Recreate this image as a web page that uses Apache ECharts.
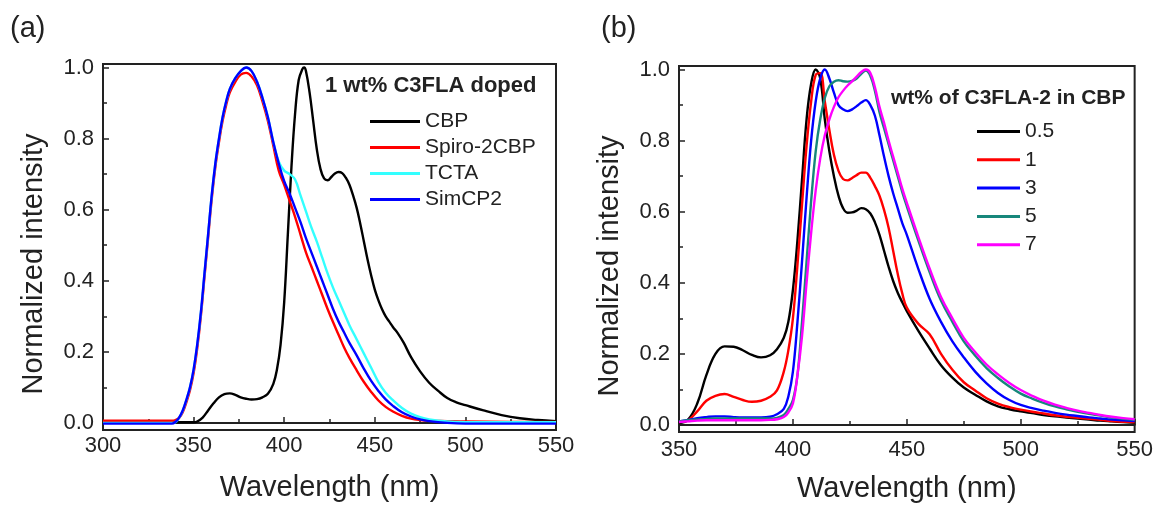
<!DOCTYPE html>
<html><head><meta charset="utf-8">
<script src="https://cdn.jsdelivr.net/npm/echarts@6/dist/echarts.min.js"></script>
<style>html,body{margin:0;padding:0;background:#fff}#c{width:1156px;height:508px}</style>
</head><body><div id="c"></div>
<script>
// ---------- Panel (a) data ----------
const cbpX = [300,350,352,355,358,361,364,367,370,373,376,379,382,385,388,391,394,396,398,400,402,404,406,408,410,411,412,414,416,418,420,422,424,426,428,430,432,434,436,438,440,442,444,446,448,450,452,454,456,458,460,463,466,470,475,480,485,490,495,500,510,520,530,540,550];
const cbpY = [0.002,0.002,0.004,0.015,0.035,0.055,0.072,0.081,0.083,0.079,0.072,0.068,0.066,0.067,0.072,0.082,0.11,0.15,0.22,0.34,0.53,0.72,0.87,0.965,0.995,1.0,0.99,0.93,0.85,0.77,0.715,0.688,0.683,0.692,0.702,0.706,0.703,0.69,0.67,0.64,0.605,0.56,0.51,0.46,0.415,0.375,0.345,0.32,0.3,0.285,0.27,0.25,0.225,0.185,0.145,0.113,0.09,0.07,0.058,0.05,0.035,0.022,0.013,0.008,0.005];
const hostX = [300,320,338,340,342,344,346,348,350,352,354,356,358,360,362,364,366,368,370,373,376,379,382,385,388,391,394,397,400,403,406,409,412,415,418,421,424,427,430,433,436,440,444,448,452,456,460,465,470,475,480,490,500,525,550];
const spiroY = [0.006,0.006,0.006,0.008,0.014,0.03,0.058,0.092,0.14,0.21,0.3,0.41,0.52,0.63,0.72,0.79,0.85,0.895,0.93,0.96,0.98,0.985,0.975,0.95,0.905,0.85,0.78,0.71,0.67,0.625,0.58,0.53,0.48,0.44,0.40,0.36,0.32,0.283,0.248,0.213,0.183,0.148,0.115,0.087,0.063,0.045,0.032,0.02,0.012,0.008,0.006,0.005,0.004,0.003,0.003];
const tctaY = [0,0,0,0.002,0.014,0.034,0.064,0.1,0.15,0.22,0.31,0.42,0.53,0.64,0.73,0.8,0.86,0.905,0.94,0.97,0.99,1.0,0.99,0.96,0.915,0.86,0.79,0.735,0.71,0.70,0.685,0.64,0.595,0.55,0.51,0.465,0.42,0.38,0.345,0.31,0.275,0.235,0.195,0.155,0.115,0.085,0.064,0.042,0.026,0.016,0.01,0.004,0.002,0.002,0.002];
const simcpY = [-0.002,-0.002,-0.002,0.003,0.015,0.035,0.065,0.1,0.15,0.22,0.31,0.42,0.53,0.64,0.73,0.8,0.86,0.905,0.94,0.97,0.99,1.0,0.99,0.96,0.915,0.86,0.79,0.73,0.68,0.645,0.605,0.565,0.52,0.48,0.44,0.40,0.36,0.32,0.285,0.255,0.225,0.19,0.152,0.118,0.09,0.066,0.048,0.03,0.018,0.01,0.005,0.0,-0.002,-0.002,-0.002];
const namesA = ['CBP','Spiro-2CBP','TCTA','SimCP2'];
const colorsA = ['#000000','#ff0000','#33ffff','#0000ff'];

// ---------- Panel (b) data ----------
const bX = [350,354,358,362,366,370,374,378,382,386,390,393,396,398,400,402,404,406,408,410,412,414,416,418,420,422,424,426,428,430,432,434,436,438,440,442,444,446,448,450,455,460,465,470,475,480,485,490,495,500,505,510,515,520,525,530,535,540,545,550];
const w05 = [0.005,0.015,0.06,0.14,0.2,0.221,0.22,0.21,0.197,0.19,0.196,0.213,0.245,0.29,0.38,0.52,0.69,0.86,0.96,1.0,0.975,0.86,0.77,0.7,0.645,0.61,0.597,0.598,0.603,0.61,0.607,0.595,0.57,0.535,0.49,0.445,0.405,0.372,0.345,0.32,0.265,0.215,0.168,0.133,0.105,0.085,0.066,0.052,0.044,0.038,0.033,0.028,0.024,0.021,0.018,0.015,0.012,0.01,0.008,0.006];
const w1 = [0.008,0.013,0.038,0.068,0.082,0.087,0.079,0.07,0.065,0.068,0.079,0.097,0.15,0.21,0.3,0.45,0.62,0.785,0.91,0.985,0.99,0.91,0.83,0.76,0.715,0.692,0.688,0.695,0.703,0.71,0.71,0.695,0.672,0.645,0.605,0.555,0.49,0.425,0.37,0.33,0.285,0.255,0.2,0.155,0.12,0.097,0.075,0.06,0.05,0.043,0.037,0.032,0.027,0.023,0.02,0.017,0.014,0.011,0.009,0.007];
const w3 = [0.01,0.014,0.019,0.022,0.024,0.024,0.022,0.021,0.021,0.021,0.023,0.03,0.045,0.08,0.15,0.29,0.46,0.64,0.8,0.91,0.975,1.0,0.975,0.935,0.9,0.888,0.883,0.888,0.897,0.907,0.914,0.9,0.87,0.815,0.755,0.7,0.652,0.61,0.568,0.535,0.44,0.355,0.29,0.235,0.19,0.15,0.117,0.09,0.07,0.056,0.047,0.04,0.034,0.029,0.025,0.021,0.018,0.015,0.013,0.011];
const w5 = [0.01,0.013,0.015,0.017,0.018,0.018,0.018,0.018,0.018,0.018,0.018,0.02,0.028,0.045,0.07,0.14,0.29,0.46,0.63,0.77,0.86,0.92,0.953,0.966,0.97,0.967,0.966,0.968,0.975,0.988,0.997,0.982,0.94,0.88,0.835,0.79,0.745,0.7,0.655,0.615,0.52,0.43,0.35,0.29,0.235,0.195,0.16,0.132,0.108,0.088,0.074,0.062,0.052,0.044,0.037,0.031,0.026,0.021,0.017,0.014];
const w7 = [0.008,0.01,0.012,0.013,0.013,0.013,0.013,0.013,0.013,0.013,0.014,0.016,0.022,0.035,0.06,0.14,0.25,0.4,0.54,0.66,0.75,0.815,0.86,0.895,0.922,0.94,0.955,0.967,0.98,0.993,1.0,0.99,0.95,0.895,0.85,0.8,0.755,0.71,0.665,0.625,0.53,0.44,0.36,0.3,0.245,0.205,0.17,0.142,0.118,0.098,0.082,0.068,0.057,0.048,0.04,0.034,0.028,0.023,0.019,0.016];
const namesB = ['0.5','1','3','5','7'];
const colorsB = ['#000000','#ff0000','#0000ff','#17877b','#ff00ff'];

// ---------- ticks ----------
const yTicks = [0,0.2,0.4,0.6,0.8,1.0];
const yMinor = [0.1,0.3,0.5,0.7,0.9];

const FONT = '"Liberation Sans", Arial, sans-serif';
const zip = (xs, ys) => xs.map((x, i) => [x, ys[i]]);

function xAx(gi, min, labelMargin, nameGap) {
  return {
    gridIndex: gi, type: 'value', min: min, max: 550, interval: 50,
    axisLine: {show: true, lineStyle: {color: '#222', width: 2}},
    axisTick: {inside: true, length: 6, lineStyle: {color: '#222', width: 1.5}},
    minorTick: {show: true, splitNumber: 2, length: 4, lineStyle: {color: '#222', width: 1.5}},
    axisLabel: {fontSize: 22, color: '#222', margin: labelMargin, fontFamily: FONT},
    splitLine: {show: false},
    name: 'Wavelength (nm)', nameLocation: 'middle', nameGap: nameGap,
    nameTextStyle: {fontSize: 29, color: '#222', fontFamily: FONT}
  };
}
function yAx(gi) {
  return {
    gridIndex: gi, type: 'value', min: -0.02, max: 1.01,
    axisLine: {show: true, lineStyle: {color: '#222', width: 2}},
    axisTick: {inside: true, length: 6, customValues: yTicks, lineStyle: {color: '#222', width: 1.5}},
    axisLabel: {fontSize: 22, color: '#222', margin: 9, fontFamily: FONT, customValues: yTicks,
      formatter: v => v.toFixed(1)},
    splitLine: {show: false},
    name: 'Normalized intensity', nameLocation: 'middle', nameGap: 55,
    nameTextStyle: {fontSize: 29, color: '#222', fontFamily: FONT, padding: [0, 34, 0, 0]}
  };
}
function yMinorAx(gi) {
  return {
    gridIndex: gi, type: 'value', min: -0.02, max: 1.01, position: 'left',
    axisLine: {show: false},
    axisTick: {show: true, inside: true, length: 4, customValues: yMinor, lineStyle: {color: '#222', width: 1.5}},
    axisLabel: {show: false},
    splitLine: {show: false}
  };
}

const series = [];
const dataA = [zip(cbpX, cbpY), zip(hostX, spiroY), zip(hostX, tctaY), zip(hostX, simcpY)];
namesA.forEach((n, i) => series.push({
  name: n, type: 'line', xAxisIndex: 0, yAxisIndex: 0, data: dataA[i],
  symbol: 'none', smooth: 0.4,
  lineStyle: {color: colorsA[i], width: 2.4}, itemStyle: {color: colorsA[i]}
}));
const dataB = [w05, w1, w3, w5, w7];
namesB.forEach((n, i) => series.push({
  name: n, type: 'line', xAxisIndex: 1, yAxisIndex: 1, data: zip(bX, dataB[i]),
  symbol: 'none', smooth: 0.4,
  lineStyle: {color: colorsB[i], width: 2.4}, itemStyle: {color: colorsB[i]}
}));

const chart = echarts.init(document.getElementById('c'), null, {renderer: 'canvas'});
chart.setOption({
  animation: false,
  backgroundColor: '#fff',
  textStyle: {fontFamily: FONT},
  grid: [
    {left: 103, top: 64, width: 453, height: 366, show: true, borderColor: '#222', borderWidth: 2, backgroundColor: 'transparent'},
    {left: 679, top: 66, width: 456, height: 372, show: true, borderColor: '#222', borderWidth: 2, backgroundColor: 'transparent'}
  ],
  xAxis: [xAx(0, 300, 5, 43), xAx(1, 350, 7, 42)],
  yAxis: [yAx(0), yAx(1), yMinorAx(0), yMinorAx(1)],
  title: [
    {text: '1 wt% C3FLA doped', left: 325, top: 75, padding: 0,
      textStyle: {fontSize: 22, fontWeight: 'bold', color: '#222', fontFamily: FONT}},
    {text: 'wt% of C3FLA-2 in CBP', left: 891, top: 88, padding: 0,
      textStyle: {fontSize: 21, fontWeight: 'bold', color: '#222', fontFamily: FONT}}
  ],
  legend: [
    {data: namesA, orient: 'vertical', left: 370, top: 111, padding: 0, itemWidth: 50, itemHeight: 3, itemGap: 5,
      icon: 'rect', textStyle: {fontSize: 21, color: '#222', fontFamily: FONT, lineHeight: 21}},
    {data: namesB, orient: 'vertical', left: 977, top: 121, padding: 0, itemWidth: 43, itemHeight: 3, itemGap: 7.3,
      icon: 'rect', textStyle: {fontSize: 21, color: '#222', fontFamily: FONT, lineHeight: 21}}
  ],
  graphic: [
    {type: 'text', left: 10, top: 14, style: {text: '(a)', fontSize: 29, fill: '#222', fontFamily: FONT}},
    {type: 'text', left: 601, top: 14, style: {text: '(b)', fontSize: 29, fill: '#222', fontFamily: FONT}}
  ],
  series: series
});
</script></body></html>
